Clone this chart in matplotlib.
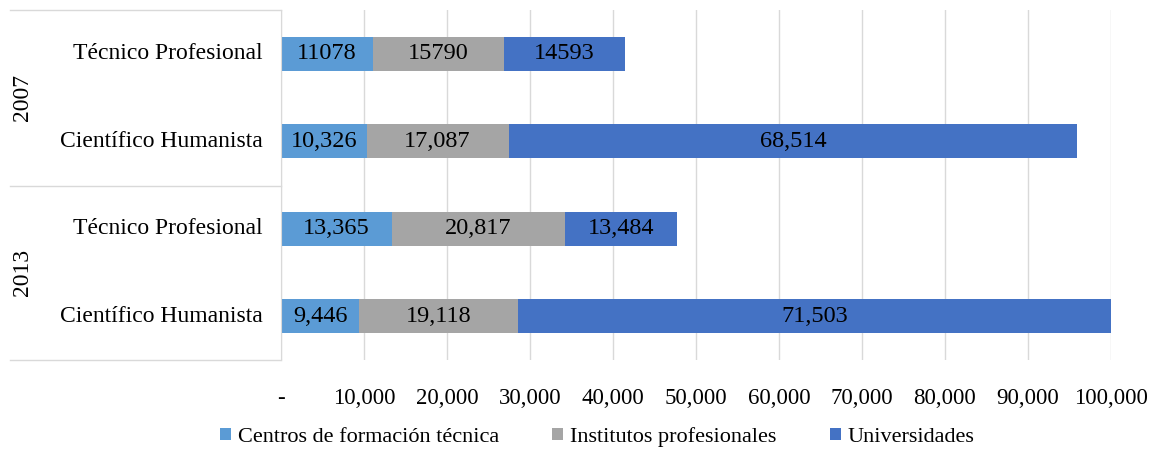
import numpy as np
import matplotlib
matplotlib.use("Agg")
import matplotlib.pyplot as plt
from matplotlib.lines import Line2D

plt.rcParams['font.family'] = ['Liberation Serif', 'DejaVu Serif']

# data (top to bottom)
years = ["2007", "2013"]
categories = ["Técnico Profesional", "Científico Humanista",
              "Técnico Profesional", "Científico Humanista"]
series = ["Centros de formación técnica", "Institutos profesionales", "Universidades"]
cft = [11078, 10326, 13365, 9446]
ip = [15790, 17087, 20817, 19118]
univ = [14593, 68514, 13484, 71503]
cft_labels = ["11078", "10,326", "13,365", "9,446"]
ip_labels = ["15790", "17,087", "20,817", "19,118"]
univ_labels = ["14593", "68,514", "13,484", "71,503"]
xticks = [0, 10000, 20000, 30000, 40000, 50000, 60000, 70000, 80000, 90000, 100000]
xtick_labels = ["-", "10,000", "20,000", "30,000", "40,000", "50,000",
                "60,000", "70,000", "80,000", "90,000", "100,000"]
colors = ["#5B9BD5", "#A5A5A5", "#4472C4"]

W, H = 1153, 451
fig = plt.figure(figsize=(W / 100, H / 100), dpi=100)
ax = fig.add_axes([281 / W, 1 - 360 / H, (1111 - 281) / W, 350 / H])

y = np.arange(len(categories))[::-1]
left = np.zeros(len(categories))
for vals, labs, col, name in zip([cft, ip, univ], [cft_labels, ip_labels, univ_labels], colors, series):
    vals = np.array(vals, dtype=float)
    bars = ax.barh(y, vals, left=left, height=0.39, color=col, label=name, zorder=2)
    ax.bar_label(bars, labels=labs, label_type='center', fontsize=17.5, color='black')
    left += vals

ax.set_xlim(0, 100000)
ax.set_ylim(-0.5, 3.5)
ax.set_xticks(xticks)
ax.set_xticklabels(xtick_labels, fontsize=16.5)
ax.tick_params(axis='x', length=0, pad=20)
ax.set_yticks([])
ax.grid(axis='x', color='#D9D9D9', linewidth=1, zorder=0)
for s in ['top', 'right', 'bottom']:
    ax.spines[s].set_visible(False)
ax.spines['left'].set_color('#D9D9D9')

# multi-level category axis
for ypix in [10, 186, 360]:
    fig.add_artist(Line2D([10 / W, 281 / W], [1 - ypix / H, 1 - ypix / H],
                          color='#D9D9D9', linewidth=1, transform=fig.transFigure))
for yi, cat in zip(y, categories):
    ax.text(-2200, yi, cat, ha='right', va='center', fontsize=17)
for i, yr in enumerate(years):
    ax.text(-31200, 2.5 - 2 * i, yr, ha='center', va='center', rotation=90, fontsize=17)

fig.legend(loc='center', bbox_to_anchor=(597 / W, 1 - 437 / H), ncol=3, frameon=False,
           fontsize=16, handlelength=0.5, handleheight=0.5, handletextpad=0.3,
           columnspacing=2.4)

fig.savefig("out.png", dpi=100)
